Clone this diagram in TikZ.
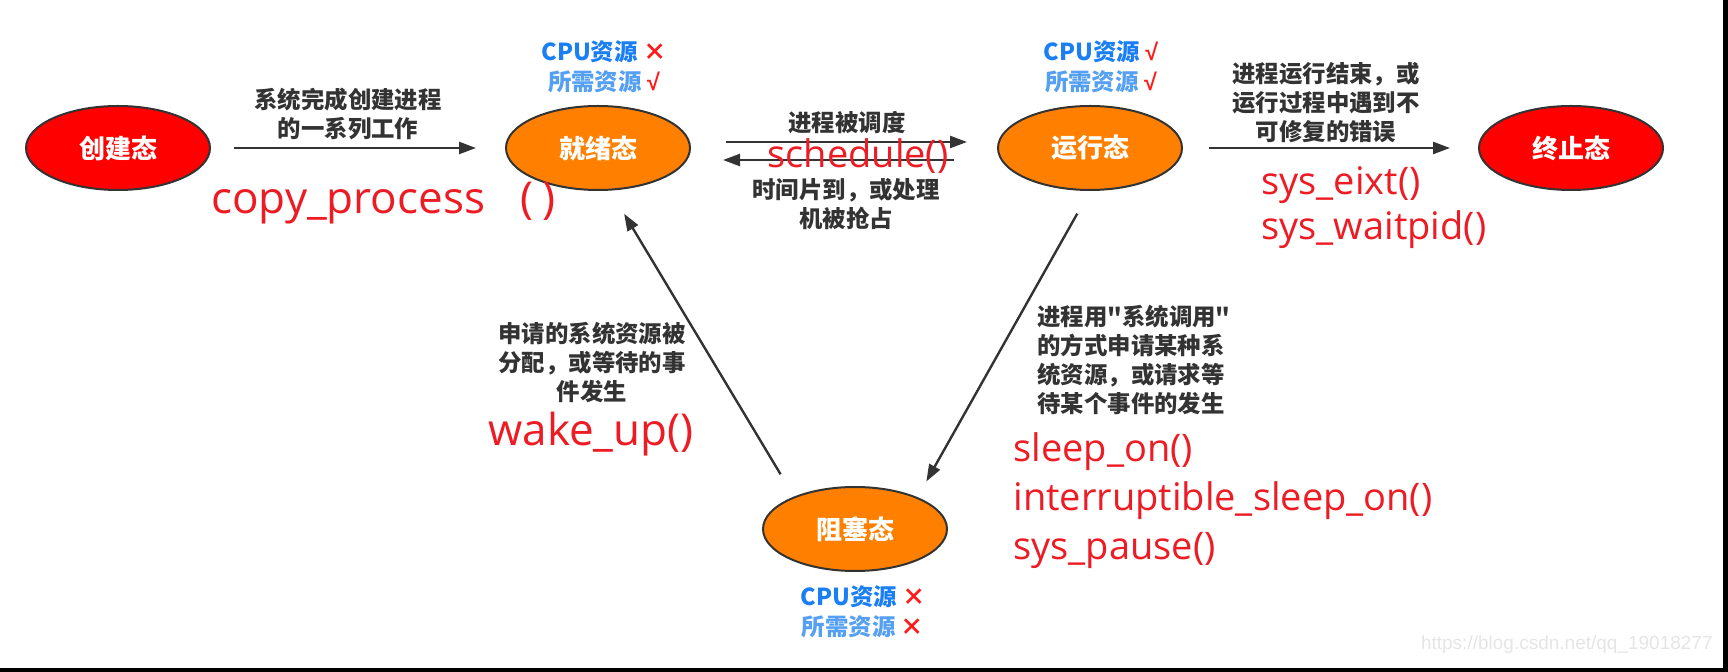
\documentclass[tikz,border=0pt]{standalone}
\usepackage{fontspec}
\usepackage{tikz}
\usetikzlibrary{arrows.meta,shapes.geometric}
\newfontfamily\cjk{Noto Sans CJK SC}
\newfontfamily\fnfont{Open Sans}
\newfontfamily\wmfont{Liberation Sans}
\definecolor{statered}{HTML}{FF0000}
\definecolor{stateorange}{HTML}{FF8000}
\definecolor{arrowgray}{HTML}{333333}
\definecolor{fnred}{HTML}{ED1C24}
\definecolor{cpublue}{HTML}{1A7EF5}
\definecolor{needblue}{HTML}{55A0F2}
\definecolor{markred}{HTML}{FF1A1A}
\newcommand{\yes}{\textcolor{markred}{\wmfont\bfseries √}}
\newcommand{\no}{\textcolor{markred}{×}}

\begin{document}
\begin{tikzpicture}[x=0.5pt,y=-0.5pt,>={Triangle[length=8.5pt,width=6pt]},
  state/.style={ellipse,draw=arrowgray,line width=1pt,minimum width=92pt,minimum height=42pt,inner sep=0pt,text=white,font=\cjk\bfseries\fontsize{13}{15}\selectfont},
  conn/.style={->,draw=arrowgray,line width=1.2pt},
  note/.style={text=arrowgray,align=center,inner sep=0pt,font=\cjk\bfseries\fontsize{11.7}{14.5}\selectfont},
  fn/.style={text=fnred,align=left,inner sep=0pt,font=\fnfont\fontsize{19}{24.5}\selectfont},
  res/.style={align=center,inner sep=0pt,font=\cjk\bfseries\fontsize{11.7}{15}\selectfont}]
  \useasboundingbox (0,0) rectangle (1728,672);
  \fill[black] (1723,0) rectangle (1728,672);
  \fill[black] (0,668) rectangle (1728,672);

  \node[state,fill=statered] (crt) at (118,148) {创建态};
  \node[state,fill=stateorange] (rdy) at (598,148) {就绪态};
  \node[state,fill=stateorange] (run) at (1090,148) {运行态};
  \node[state,fill=statered] (term) at (1571,148) {终止态};
  \node[state,fill=stateorange] (blk) at (855,529) {阻塞态};

  \node[res] (rdyres) at (604,67) {\textcolor{cpublue}{CPU资源} \no\\\textcolor{needblue}{所需资源} \yes};
  \node[res] (runres) at (1101,67) {\textcolor{cpublue}{CPU资源} \yes\\\textcolor{needblue}{所需资源} \yes};
  \node[res] (blkres) at (863,612) {\textcolor{cpublue}{CPU资源} \no\\\textcolor{needblue}{所需资源} \no};

  \draw[conn,shorten <=11.5pt,shorten >=14.5pt] (crt) -- (rdy);
  \draw[conn,shorten <=17.5pt,shorten >=15pt] ([yshift=3pt]rdy.east) -- ([yshift=3pt]run.west);
  \draw[conn,shorten <=21.5pt,shorten >=16pt] ([yshift=-6pt]run.west) -- ([yshift=-6pt]rdy.east);
  \draw[conn,shorten <=13pt,shorten >=14pt] (run) -- (term);
  \draw[conn,shorten <=13pt,shorten >=13.5pt] (blk.152) -- (rdy.-74);
  \draw[conn,shorten <=13pt,shorten >=9pt] (run.south) -- (blk.27);

  \node[note] (lblcreate) at (348,114) {系统完成创建进程\\的一系列工作};
  \node[note] (lblsched) at (847,123) {进程被调度};
  \node[note] (lblpre) at (846,204) {时间片到，或处理\\机被抢占};
  \node[note] (lblend) at (1326,103) {进程运行结束，或\\运行过程中遇到不\\可修复的错误};
  \node[note] (lblwake) at (592,362) {申请的系统资源被\\分配，或等待的事\\件发生};
  \node[note,align=left,anchor=west] (lblsleep) at (1037,360) {进程用"系统调用"\\的方式申请某种系\\统资源，或请求等\\待某个事件的发生};

  \node[fn,anchor=west,font=\fnfont\fontsize{22}{26}\selectfont] (fncopy) at (211,203) {copy\_process\hspace{0.8em}(\hspace{0.2em})};
  \node[fn] (fnsched) at (858,156) {schedule()};
  \node[fn,anchor=west,font=\fnfont\fontsize{19}{22.5}\selectfont] (fnexit) at (1261,208) {sys\_eixt()\\sys\_waitpid()};
  \node[fn,font=\fnfont\fontsize{22}{26}\selectfont] (fnwake) at (591,434) {wake\_up()};
  \node[fn,anchor=west] (fnsleep) at (1013,501) {sleep\_on()\\interruptible\_sleep\_on()\\sys\_pause()};

  \node[anchor=east,inner sep=0pt,text=black!10,font=\wmfont\fontsize{9.5}{11}\selectfont] (wm) at (1713,645) {https://blog.csdn.net/qq\_19018277};
\end{tikzpicture}
\end{document}
